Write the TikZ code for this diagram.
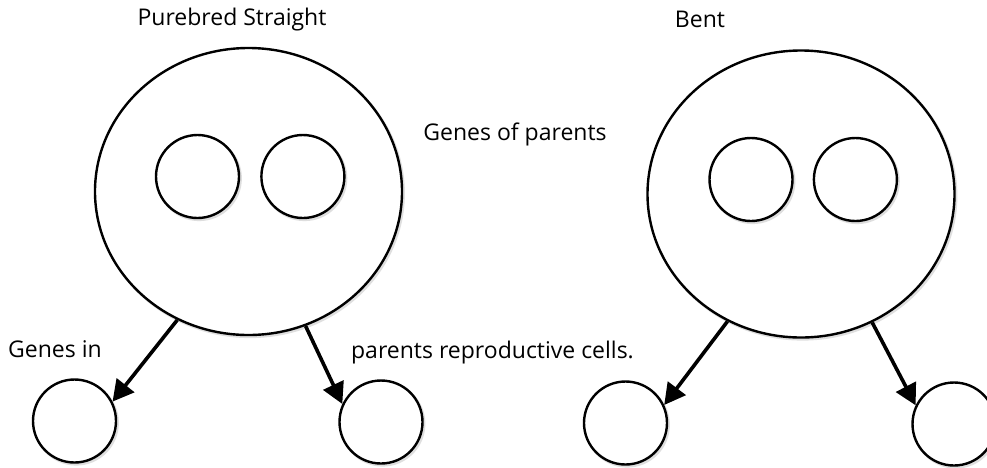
\documentclass[tikz,border=0pt]{standalone}
\usepackage{fontspec}
\setmainfont{Open Sans}
\usetikzlibrary{arrows.meta, positioning, shapes.geometric, shadows}

\begin{document}
\begin{tikzpicture}[
  x=1pt, y=-1pt,
  ring/.style={draw, line width=2.4pt, fill=white,
    drop shadow={shadow xshift=1.6pt, shadow yshift=-1.8pt, fill=none,
      draw=black!25, line width=2.6pt}},
  parent/.style={ring, ellipse, minimum width=307pt, minimum height=287pt,
    inner sep=0pt},
  gene/.style={ring, circle, minimum size=83pt, inner sep=0pt},
  lbl/.style={font=\fontsize{23}{26}\selectfont, inner sep=0pt, anchor=base},
  arr/.style={-{Triangle[length=21pt, width=22pt]}, line width=3.6pt}
]
\useasboundingbox (0,0) rectangle (987,467);
\clip (0,0) rectangle (987,467);

% parents and their genes
\node[parent] (P1) at (248.5,191.5) {};
\node[gene] (g11) at (197.5,176.5) {};
\node[gene, right=20pt of g11] (g12) {};
\node[parent] (P2) at (801,194) {};
\node[gene] (g21) at (751,179.5) {};
\node[gene, right=19pt of g21] (g22) {};

% reproductive cells
\node[gene] (c11) at (74.5,421) {};
\node[gene] (c12) at (381,422) {};
\node[gene] (c21) at (625.5,423) {};
\node[gene] (c22) at (954,424) {};

\node[lbl] (tP1) at (232,25) {Purebred Straight};
\node[lbl] (tP2) at (700,27) {Bent};
\node[lbl] (tgp) at (515,140) {Genes of parents};
\node[lbl] (tgi) at (55,357) {Genes in};
\node[lbl] (trc) at (492.5,358) {parents reproductive cells.};

\draw[arr] (P1.241) -- (c11.27);
\draw[arr] (P1.293) -- (c12.155);
\draw[arr] (P2.240) -- (c21.25);
\draw[arr] (P2.299) -- (c22.154);
\end{tikzpicture}
\end{document}
